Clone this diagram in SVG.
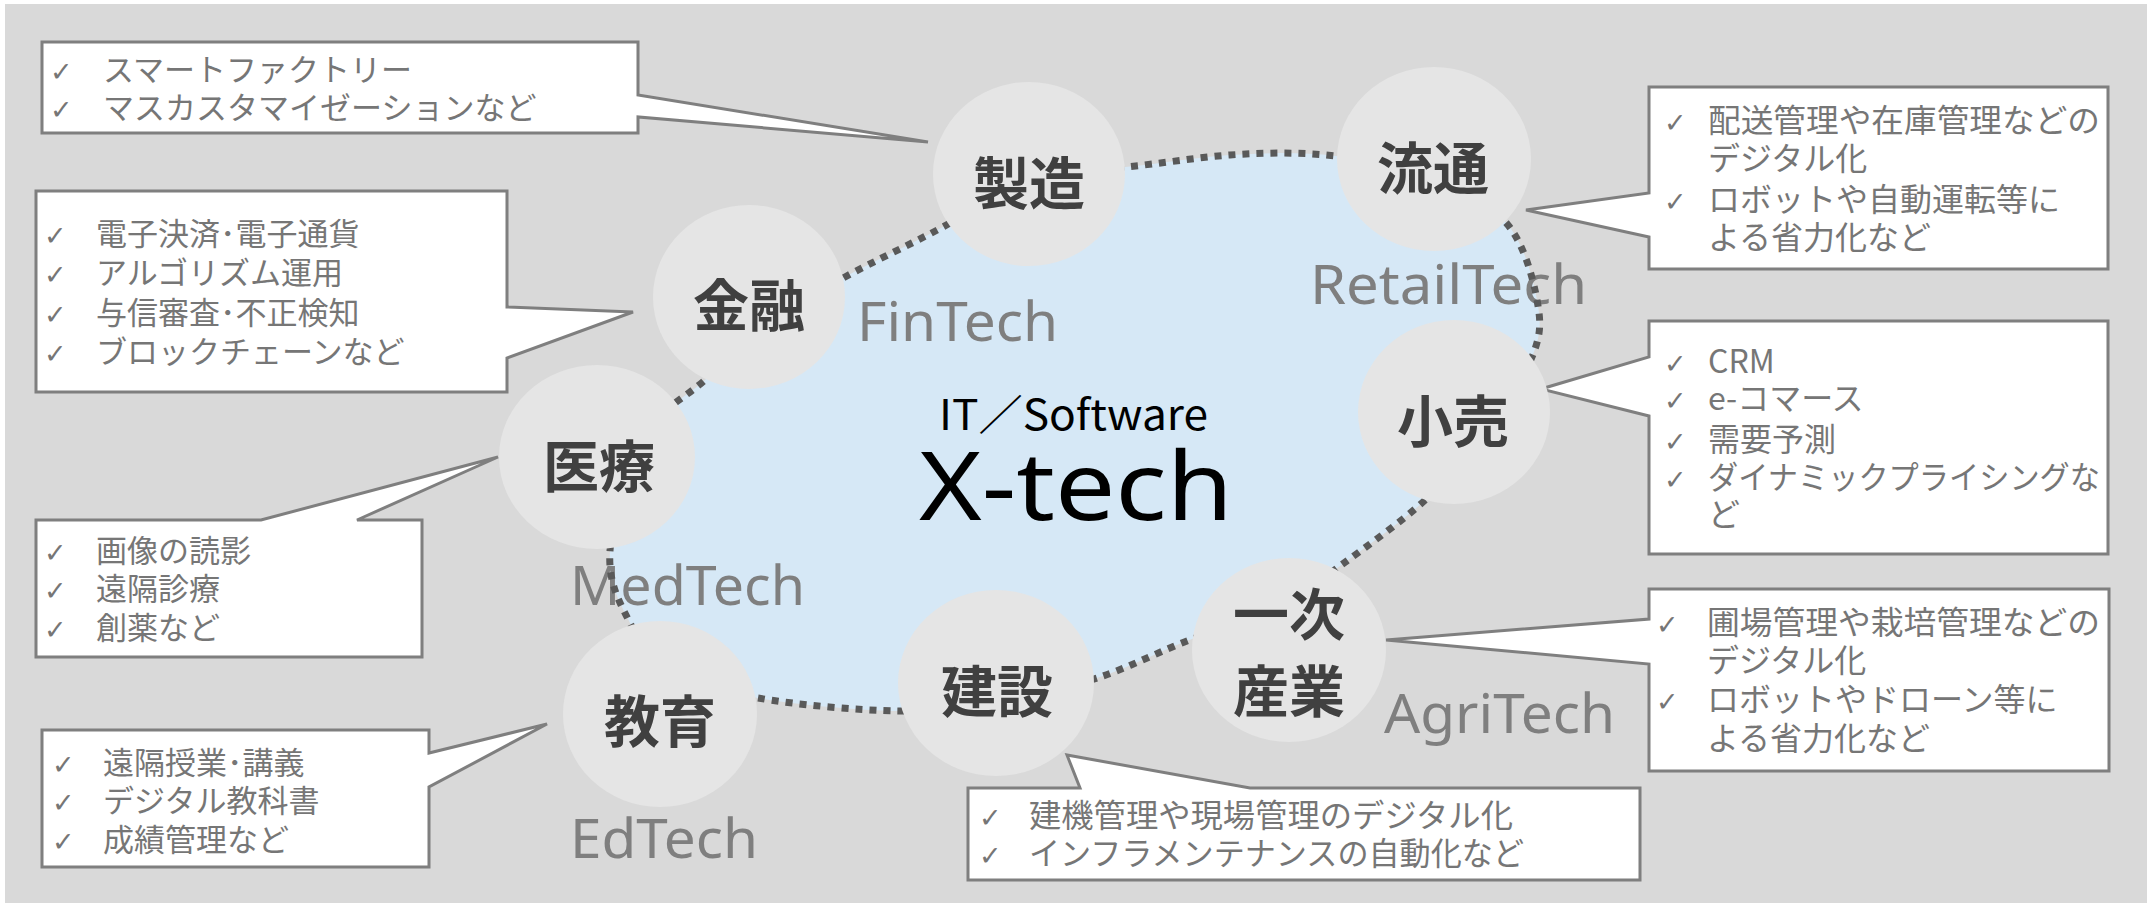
<svg xmlns="http://www.w3.org/2000/svg" xmlns:xlink="http://www.w3.org/1999/xlink" width="2154" height="907" viewBox="0 0 2154 907">
<style>
.node{fill:#e5e5e5}
.lbl{font-family:"Noto Sans CJK JP","Noto Sans",sans-serif;font-size:56px;font-weight:bold;fill:#404040;text-anchor:middle}
.tech{font-family:"Noto Sans","Liberation Sans",sans-serif;font-size:54px;fill:#7f7f7f}
.box{fill:#ffffff;stroke:#7f7f7f;stroke-width:3;stroke-linejoin:miter}
.bt{font-family:"Noto Sans CJK JP","Noto Sans",sans-serif;font-size:31px;fill:#767676}
.bt32{font-size:32px}
.ck{font-family:"DejaVu Sans",sans-serif;font-size:27px;fill:#767676}
.blobfill{fill:#d6e8f6;stroke:none}
.blobline{fill:none;stroke:#595959;stroke-width:7;stroke-dasharray:7 7}
</style>
<defs>
<path id="blob" d="M950,223 C980.7,205.5 999.8,181.8 1029,174 C1058.2,166.2 1091.5,170 1125,167 C1158.5,164 1194.8,157.5 1230,155 C1265.2,152.5 1301,152 1336,156 C1371,160.5 1411.3,168.5 1440,180 C1468.7,191.5 1491.8,205 1508,225 C1524.2,245 1533,278 1537,300 C1541,322 1541.5,333.7 1532,357 C1522.5,380.3 1498.2,415.8 1480,440 C1461.8,464.2 1446.3,481 1423,502 C1399.7,523 1365.5,547.2 1340,566 C1314.5,584.8 1294.7,602.8 1270,615 C1245.3,627.2 1220.8,628.5 1192,639 C1163.2,649.5 1129.7,667.5 1097,678 C1064.3,688.5 1029.2,696.5 996,702 C962.8,707.5 937.7,711.7 898,711 C858.3,710.3 796,704.8 758,698 C720,691.2 691.7,683.2 670,670 C648.3,656.8 638,638.8 628,619 C618,599.2 608,580.8 610,551 C612,521.2 624.2,468.5 640,440 C655.8,411.5 682.5,400 705,380 C727.5,360 751.7,337.2 775,320 C798.3,302.8 815.8,293.2 845,277 C874.2,260.8 919.3,240.5 950,223 Z"/>
</defs>
<rect x="5" y="4" width="2142" height="899" fill="#d9d9d9"/>
<g id="hub">
<use xlink:href="#blob" class="blobfill"/>
<g id="tech-labels">
<text class="tech" x="857" y="341" textLength="201" lengthAdjust="spacingAndGlyphs">FinTech</text>
<text class="tech" x="1310" y="304" textLength="277" lengthAdjust="spacingAndGlyphs">RetailTech</text>
<text class="tech" x="570" y="605" textLength="235" lengthAdjust="spacingAndGlyphs">MedTech</text>
<text class="tech" x="570" y="858" textLength="188" lengthAdjust="spacingAndGlyphs">EdTech</text>
<text class="tech" x="1384" y="733" textLength="231" lengthAdjust="spacingAndGlyphs">AgriTech</text>
</g>
<text x="939" y="430" font-family="Noto Sans CJK JP, Noto Sans, sans-serif" font-size="42" fill="#000000" textLength="269" lengthAdjust="spacingAndGlyphs">IT／Software</text>
<text x="919" y="520" font-family="Noto Sans, Liberation Sans, sans-serif" font-size="95" fill="#000000" textLength="314" lengthAdjust="spacingAndGlyphs">X-tech</text>
</g>
<g id="connectors">
<use xlink:href="#blob" class="blobline"/>
</g>
<g id="node-seizo">
<path class="box" d="M42,42 H638 V95 L928,142 L638,117 V133 H42 Z"/>
<text class="ck" x="50" y="81">✓</text><text class="ck" x="50" y="119">✓</text>
<text class="bt" x="103" y="81" font-size="30">スマートファクトリー</text>
<text class="bt" x="103" y="119" font-size="30">マスカスタマイゼーションなど</text>
<ellipse class="node" cx="1029" cy="174" rx="96" ry="92"/>
<text class="lbl" x="1029" y="204">製造</text>
</g>
<g id="node-kinyu">
<path class="box" d="M36,191 H507 V307 L633,312 L507,358 V392 H36 Z"/>
<text class="ck" x="44" y="245">✓</text><text class="ck" x="44" y="284">✓</text><text class="ck" x="44" y="324">✓</text><text class="ck" x="44" y="363">✓</text>
<text class="bt" x="96" y="245">電子決済･電子通貨</text>
<text class="bt" x="96" y="284">アルゴリズム運用</text>
<text class="bt" x="96" y="324">与信審査･不正検知</text>
<text class="bt" x="96" y="363">ブロックチェーンなど</text>
<ellipse class="node" cx="749" cy="297" rx="96" ry="92"/>
<text class="lbl" x="749" y="326">金融</text>
</g>
<g id="node-iryo">
<path class="box" d="M36,520 H261 L498,457 L357,520 H422 V657 H36 Z"/>
<text class="ck" x="44" y="562">✓</text><text class="ck" x="44" y="600">✓</text><text class="ck" x="44" y="639">✓</text>
<text class="bt" x="96" y="562">画像の読影</text>
<text class="bt" x="96" y="600">遠隔診療</text>
<text class="bt" x="96" y="639">創薬など</text>
<ellipse class="node" cx="597" cy="457" rx="98" ry="92"/>
<text class="lbl" x="599" y="487">医療</text>
</g>
<g id="node-kyoiku">
<path class="box" d="M42,730 H429 V753 L547,724 L429,787 V867 H42 Z"/>
<text class="ck" x="52" y="774">✓</text><text class="ck" x="52" y="812">✓</text><text class="ck" x="52" y="851">✓</text>
<text class="bt" x="103" y="774">遠隔授業･講義</text>
<text class="bt" x="103" y="812">デジタル教科書</text>
<text class="bt" x="103" y="851">成績管理など</text>
<ellipse class="node" cx="660" cy="714" rx="97" ry="93"/>
<text class="lbl" x="660" y="742">教育</text>
</g>
<g id="node-kensetsu">
<path class="box" d="M968,788 H1080 L1067,755 L1250,788 H1640 V880 H968 Z"/>
<text class="ck" x="979" y="827">✓</text><text class="ck" x="979" y="865">✓</text>
<text class="bt bt32" x="1029" y="827" textLength="484" lengthAdjust="spacingAndGlyphs">建機管理や現場管理のデジタル化</text>
<text class="bt bt32" x="1029" y="865" textLength="495" lengthAdjust="spacingAndGlyphs">インフラメンテナンスの自動化など</text>
<ellipse class="node" cx="996" cy="683" rx="98" ry="93"/>
<text class="lbl" x="997" y="712">建設</text>
</g>
<g id="node-ichiji">
<path class="box" d="M1649,589 H2109 V771 H1649 V664 L1386,640 L1649,619 Z"/>
<text class="ck" x="1656" y="634">✓</text><text class="ck" x="1656" y="711">✓</text>
<text class="bt bt32" x="1707" y="634" textLength="393" lengthAdjust="spacingAndGlyphs">圃場管理や栽培管理などの</text>
<text class="bt bt32" x="1707" y="672">デジタル化</text>
<text class="bt bt32" x="1707" y="711">ロボットやドローン等に</text>
<text class="bt bt32" x="1707" y="750">よる省力化など</text>
<ellipse class="node" cx="1289" cy="650" rx="97" ry="92"/>
<text class="lbl" x="1289" y="635">一次</text>
<text class="lbl" x="1289" y="712">産業</text>
</g>
<g id="node-ryutsu">
<path class="box" d="M1649,87 H2108 V269 H1649 V237 L1526,210 L1649,193 Z"/>
<text class="ck" x="1664" y="132">✓</text><text class="ck" x="1664" y="211">✓</text>
<text class="bt bt32" x="1708" y="132" textLength="392" lengthAdjust="spacingAndGlyphs">配送管理や在庫管理などの</text>
<text class="bt bt32" x="1708" y="170">デジタル化</text>
<text class="bt bt32" x="1708" y="211">ロボットや自動運転等に</text>
<text class="bt bt32" x="1708" y="249">よる省力化など</text>
<ellipse class="node" cx="1434" cy="159" rx="97" ry="92"/>
<text class="lbl" x="1433" y="189">流通</text>
</g>
<g id="node-kouri">
<path class="box" d="M1649,321 H2108 V554 H1649 V416 L1541,389 L1649,357 Z"/>
<text class="ck" x="1664" y="373">✓</text><text class="ck" x="1664" y="410">✓</text><text class="ck" x="1664" y="451">✓</text><text class="ck" x="1664" y="489">✓</text>
<text class="bt bt32" x="1708" y="373">CRM</text>
<text class="bt bt32" x="1708" y="410">e-コマース</text>
<text class="bt bt32" x="1708" y="451">需要予測</text>
<text class="bt bt32" x="1708" y="489" textLength="392" lengthAdjust="spacingAndGlyphs">ダイナミックプライシングな</text>
<text class="bt bt32" x="1708" y="526">ど</text>
<ellipse class="node" cx="1454" cy="412" rx="96" ry="92"/>
<text class="lbl" x="1453" y="442">小売</text>
</g>
</svg>
